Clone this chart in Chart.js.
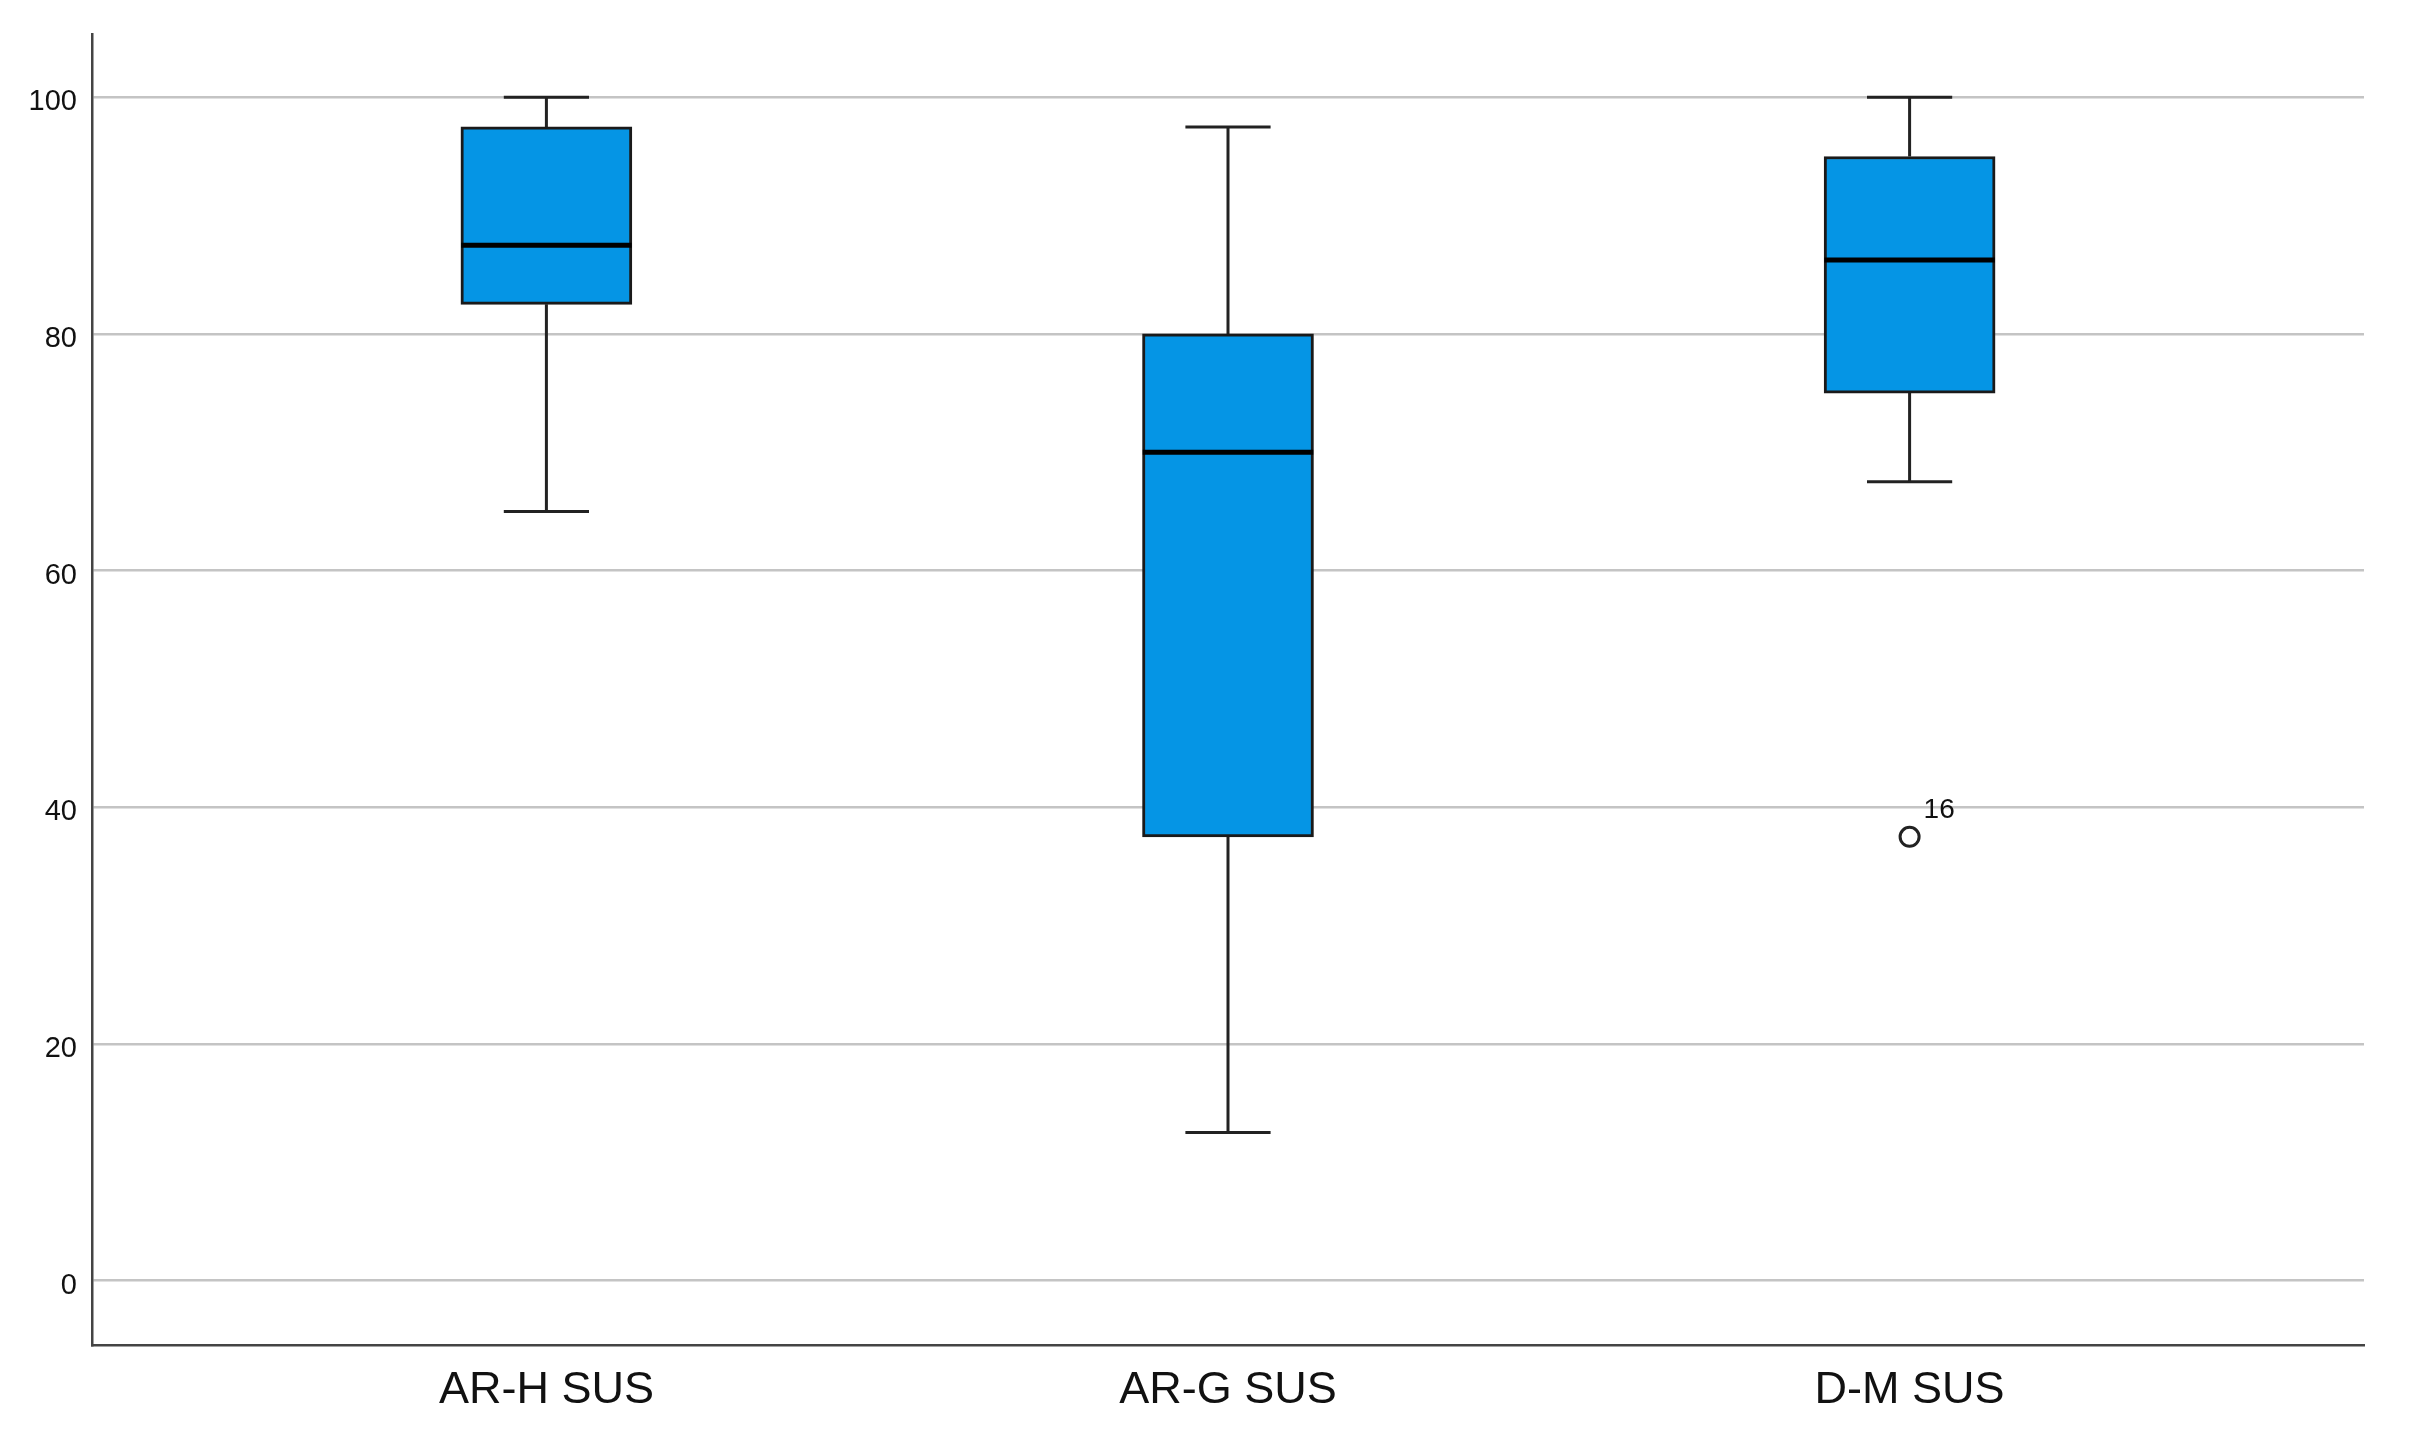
<!DOCTYPE html>
<html>
<head>
<meta charset="utf-8">
<script src="https://cdn.jsdelivr.net/npm/chart.js@4"></script>
<style>
  html, body { margin: 0; padding: 0; background: #ffffff; }
  #wrap { width: 2422px; height: 1446px; }
</style>
</head>
<body>
<div id="wrap"><canvas id="c" width="2422" height="1446"></canvas></div>
<script>
// ---- data ----
const categories = ['AR-H SUS', 'AR-G SUS', 'D-M SUS'];
const whiskerMin = [65, 12.5, 67.5];
const q1Values   = [82.5, 37.5, 75];
const medians    = [87.5, 70, 86.25];
const q3Values   = [97.5, 80, 95];
const whiskerMax = [100, 97.5, 100];
const outlierCategory = [2];
const outlierValues   = [37.5];
const outlierLabels   = ['16'];
const yTicks = [0, 20, 40, 60, 80, 100];

// ---- styles ----
const BOX_HALF = 0.125;     // in category units
const CAP_HALF = 0.0625;
const FONT = "'Liberation Sans', Arial, sans-serif";

const boxData = categories.map((c, i) => ({ x: i, y: [q1Values[i], q3Values[i]] }));
const outlierData = outlierCategory.map((c, i) => ({ x: c, y: outlierValues[i] }));

const boxPlugin = {
  id: 'boxParts',
  beforeDatasetsDraw(chart) {
    const ctx = chart.ctx, xs = chart.scales.x, ys = chart.scales.y;
    ctx.save();
    ctx.strokeStyle = '#222222';
    ctx.lineWidth = 3;
    ctx.lineCap = 'butt';
    categories.forEach((c, i) => {
      const cx = xs.getPixelForValue(i);
      const l = xs.getPixelForValue(i - CAP_HALF), r = xs.getPixelForValue(i + CAP_HALF);
      const yMax = ys.getPixelForValue(whiskerMax[i]);
      const yMin = ys.getPixelForValue(whiskerMin[i]);
      const yQ1 = ys.getPixelForValue(q1Values[i]);
      const yQ3 = ys.getPixelForValue(q3Values[i]);
      ctx.beginPath();
      ctx.moveTo(cx, yQ3); ctx.lineTo(cx, yMax);
      ctx.moveTo(cx, yQ1); ctx.lineTo(cx, yMin);
      ctx.moveTo(l, yMax); ctx.lineTo(r, yMax);
      ctx.moveTo(l, yMin); ctx.lineTo(r, yMin);
      ctx.stroke();
    });
    ctx.restore();
  },
  afterDatasetsDraw(chart) {
    const ctx = chart.ctx, xs = chart.scales.x, ys = chart.scales.y;
    ctx.save();
    ctx.strokeStyle = '#000000';
    ctx.lineWidth = 5;
    categories.forEach((c, i) => {
      const l = xs.getPixelForValue(i - BOX_HALF), r = xs.getPixelForValue(i + BOX_HALF);
      const ym = ys.getPixelForValue(medians[i]);
      ctx.beginPath();
      ctx.moveTo(l, ym); ctx.lineTo(r, ym);
      ctx.stroke();
    });
    ctx.fillStyle = '#111111';
    ctx.font = '28px ' + FONT;
    ctx.textAlign = 'left';
    ctx.textBaseline = 'alphabetic';
    outlierCategory.forEach((c, i) => {
      const px = xs.getPixelForValue(c), py = ys.getPixelForValue(outlierValues[i]);
      ctx.fillText(outlierLabels[i], px + 14, py - 19);
    });
    ctx.restore();
  }
};

new Chart(document.getElementById('c'), {
  type: 'bar',
  data: {
    datasets: [
      {
        type: 'bar',
        data: boxData,
        backgroundColor: '#0595e5',
        borderColor: '#1a1a1a',
        borderWidth: 3,
        borderSkipped: false,
        barThickness: 171,
        order: 2
      },
      {
        type: 'scatter',
        data: outlierData,
        pointStyle: 'circle',
        pointRadius: 9.5,
        pointBackgroundColor: '#ffffff',
        pointBorderColor: '#222222',
        pointBorderWidth: 3,
        order: 1
      }
    ]
  },
  options: {
    responsive: false,
    devicePixelRatio: 1,
    animation: false,
    layout: { padding: { left: 0, right: 58, top: 34, bottom: 0 } },
    plugins: { legend: { display: false }, tooltip: { enabled: false } },
    scales: {
      x: {
        type: 'linear',
        offset: false,
        min: -2 / 3,
        max: 8 / 3,
        afterBuildTicks(scale) { scale.ticks = categories.map((c, i) => ({ value: i })); },
        afterFit(scale) { scale.height = 101; },
        grid: { display: false, drawTicks: false, offset: false },
        border: { display: true, color: '#444444', width: 2.5 },
        ticks: {
          autoSkip: false,
          maxRotation: 0,
          padding: 19,
          color: '#111111',
          font: { family: FONT, size: 45 },
          callback: (v) => categories[v]
        }
      },
      y: {
        type: 'linear',
        min: -5.45,
        max: 105.35,
        afterBuildTicks(scale) { scale.ticks = yTicks.map(v => ({ value: v })); },
        afterFit(scale) { scale.width = 92; },
        grid: { color: '#c4c4c4', lineWidth: 2.5, drawTicks: false },
        border: { display: true, color: '#444444', width: 2.5 },
        ticks: {
          padding: 15,
          labelOffset: 5,
          color: '#111111',
          font: { family: FONT, size: 29 }
        }
      }
    }
  },
  plugins: [boxPlugin]
});
</script>
</body>
</html>
